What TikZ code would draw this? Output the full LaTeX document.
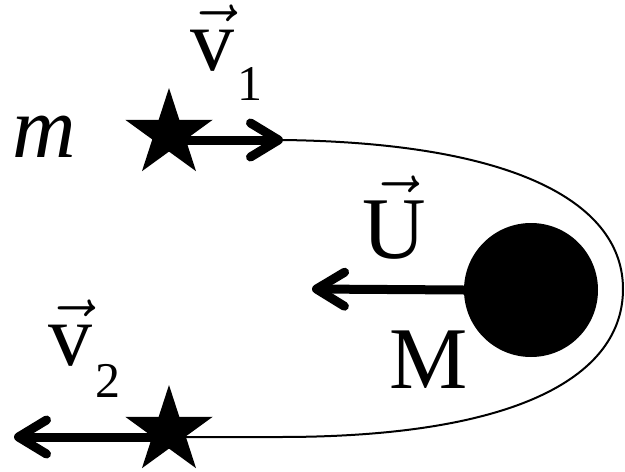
\documentclass[tikz,border=0pt]{standalone}
\usepackage{fontspec}
\setmainfont{Liberation Serif}
\usetikzlibrary{arrows.meta,shapes.geometric}
\newcommand\vecsym[1]{\scalebox{5}{\fontsize{17.6}{18}\selectfont$\vec{\mbox{#1}}$}}

\begin{document}
\begin{tikzpicture}[x=1pt,y=-1pt,
    font=\fontsize{88}{90}\selectfont,
    body/.style={star,star points=5,star point ratio=2.618,fill=black,minimum size=92pt,inner sep=0pt},
    vec/.style={line width=9pt,line cap=round,-{Straight Barb[round,length=28pt,width=34pt]}},
    orbit/.style={line width=2pt},
    lbl/.style={inner sep=0pt,anchor=base west}]
  \useasboundingbox (0,0) rectangle (625,472);
  \coordinate (v1tip) at (283,140);
  \coordinate (v2tip) at (14,437);
  \coordinate (Utip) at (312,289);
  \node[circle,fill=black,minimum size=134pt,inner sep=0pt] (M) at (531,290) {};
  \node[body] (m1) at (169,134) {};
  \node[body] (m2) at (169,431) {};
  % orbit of m around M
  \draw[orbit] (v1tip) .. controls (520,143) and (623,205) .. (623,289)
    .. controls (623,375) and (520,437) .. (280,437) -- ([yshift=-6pt]m2.center);
  % velocities
  \draw[vec] ([yshift=-6pt]m1.center) -- (v1tip);
  \draw[vec] ([yshift=-6pt]m2.center) -- (v2tip);
  \draw[vec] (M.west) -- (Utip);
  % labels
  \node[lbl] (v1) at (190,70) {\vecsym{v}\kern3pt\raisebox{-30pt}{\fontsize{50}{50}\selectfont 1}};
  \node[lbl] (v2) at (48,365) {\vecsym{v}\kern3pt\raisebox{-32pt}{\fontsize{50}{50}\selectfont 2}};
  \node[lbl] (Ulbl) at (362,258) {\vecsym{U}};
  \node[lbl] (Mlbl) at (389,388) {M};
  \node[lbl] (mlbl) at (12,157) {\itshape m};
\end{tikzpicture}
\end{document}
